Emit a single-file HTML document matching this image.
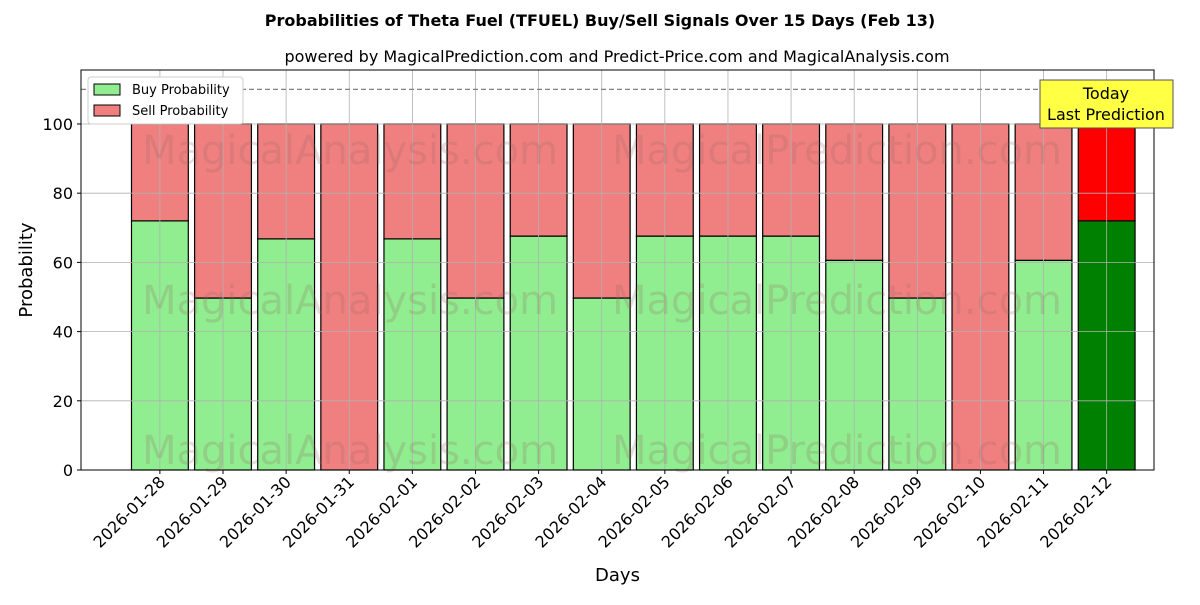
<!DOCTYPE html>
<html><head><meta charset="utf-8"><style>
body{margin:0;background:#fff;font-family:"Liberation Sans","DejaVu Sans",sans-serif}
svg text{font-family:"DejaVu Sans","Liberation Sans",sans-serif}
</style></head><body>
<svg id="c" width="1200" height="600" xmlns="http://www.w3.org/2000/svg"></svg>
<script>
const days=["2026-01-28","2026-01-29","2026-01-30","2026-01-31","2026-02-01","2026-02-02","2026-02-03","2026-02-04","2026-02-05","2026-02-06","2026-02-07","2026-02-08","2026-02-09","2026-02-10","2026-02-11","2026-02-12"];
const buy=[72,49.7,66.8,0,66.8,49.7,67.6,49.7,67.6,67.6,67.6,60.6,49.7,0,60.6,72];
const yTicks=[0,20,40,60,80,100];
const L=81,R=1154,T=70,B=470;
const xs=i=>L+(i+1.25)/17*(R-L);
const ys=v=>B-v/115.6*(B-T);
const svg=document.getElementById('c');
const NS='http://www.w3.org/2000/svg';
function el(t,a,p){const e=document.createElementNS(NS,t);for(const k in a)e.setAttribute(k,a[k]);(p||svg).appendChild(e);return e;}
function tx(s,a){const e=el('text',a);e.textContent=s;return e;}
let t;
t=tx("Probabilities of Theta Fuel (TFUEL) Buy/Sell Signals Over 15 Days (Feb 13)",{x:600,y:26,'text-anchor':'middle','font-size':16,'font-weight':'bold'});

t=tx("powered by MagicalPrediction.com and Predict-Price.com and MagicalAnalysis.com",{x:617,y:62,'text-anchor':'middle','font-size':16});

// bars
const bw=0.9/17*(R-L);
days.forEach((d,i)=>{
const last=i===days.length-1;
const x=xs(i)-bw/2;
const b=el('rect',{x:x,y:ys(buy[i]),width:bw,height:ys(0)-ys(buy[i]),fill:last?'#008000':'#90ee90',stroke:'#000','stroke-width':1.2});

const s=el('rect',{x:x,y:ys(100),width:bw,height:ys(buy[i])-ys(100),fill:last?'#ff0000':'#f08080',stroke:'#000','stroke-width':1.2});

});
// grid on top
yTicks.forEach(v=>{const g=el('line',{x1:L,x2:R,y1:ys(v),y2:ys(v),stroke:'#b0b0b0','stroke-width':0.8});
});
days.forEach((d,i)=>{const g=el('line',{x1:xs(i),x2:xs(i),y1:T,y2:B,stroke:'#b0b0b0','stroke-width':0.8});
});
// watermarks
[[350,150],[837,150],[350,300],[837,300],[350,450],[837,450]].forEach((p,i)=>{
const w=tx(i%2?"MagicalPrediction.com":"MagicalAnalysis.com",{x:p[0],y:p[1]+14,'text-anchor':'middle','font-size':40,fill:'rgba(150,100,100,0.22)'});
});
const dl=el('line',{x1:L,x2:R,y1:ys(110),y2:ys(110),stroke:'#808080','stroke-width':1.2,'stroke-dasharray':'5,3'});

// axes frame
const fr=el('rect',{x:L,y:T,width:R-L,height:B-T,fill:'none',stroke:'#000','stroke-width':1});

yTicks.forEach(v=>{el('line',{x1:L-4,x2:L,y1:ys(v),y2:ys(v),stroke:'#000'});
const l=tx(String(v),{x:L-8,y:ys(v)+6,'text-anchor':'end','font-size':16});
});
days.forEach((d,i)=>{el('line',{x1:xs(i),x2:xs(i),y1:B,y2:B+4,stroke:'#000'});
const ax=xs(i)+6,ay=B+13;
const l=tx(d,{x:ax,y:ay,'text-anchor':'end','font-size':16,transform:`rotate(-45 ${ax} ${ay})`});
});
t=tx("Days",{x:(L+R)/2,y:581,'text-anchor':'middle','font-size':18});

t=tx("Probability",{x:32,y:(T+B)/2,'text-anchor':'middle','font-size':18,transform:`rotate(-90 32 ${(T+B)/2})`});

// legend
const lg=el('rect',{x:88,y:77,width:155,height:47,fill:'#fff',stroke:'#ccc',rx:3});

let r=el('rect',{x:94,y:84,width:26,height:11,fill:'#90ee90',stroke:'#000'});

t=tx("Buy Probability",{x:132,y:94,'font-size':13});
r=el('rect',{x:94,y:105,width:26,height:11,fill:'#f08080',stroke:'#000'});

t=tx("Sell Probability",{x:132,y:115,'font-size':13});
// annotation
const an=el('rect',{x:1040,y:80,width:133,height:48,fill:'#ffff44',stroke:'#555'});

t=tx("Today",{x:1106,y:99,'text-anchor':'middle','font-size':16});
t=tx("Last Prediction",{x:1106,y:120,'text-anchor':'middle','font-size':16});
</script>
</body></html>
